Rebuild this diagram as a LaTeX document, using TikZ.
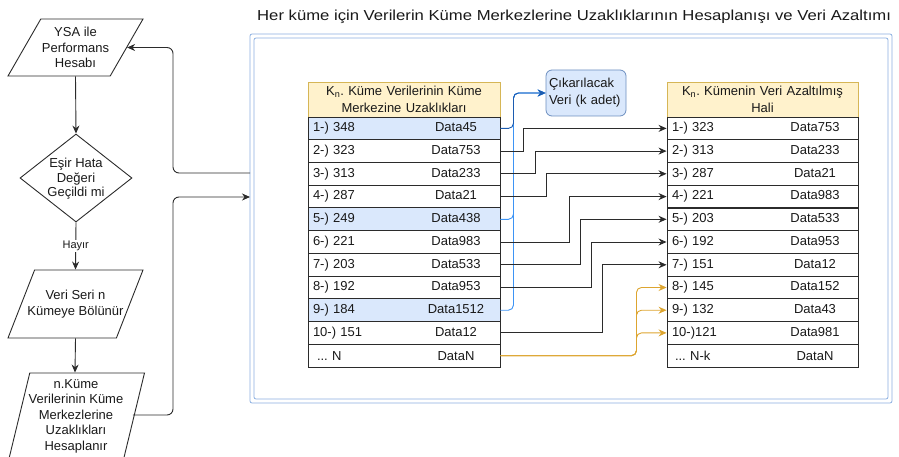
\documentclass[tikz,border=0pt]{standalone}
\usepackage{fontspec}
\setmainfont{Liberation Sans}
\usepackage{xcolor}
\usetikzlibrary{shapes.geometric, arrows.meta, positioning, calc}
\frenchspacing
\definecolor{headfill}{HTML}{FFF2CC}
\definecolor{headdraw}{HTML}{D6B656}
\definecolor{selfill}{HTML}{DAE8FC}
\definecolor{seldraw}{HTML}{6C8EBF}
\definecolor{framecol}{HTML}{8AAEE0}
\definecolor{dropblue}{HTML}{3D94F5}
\definecolor{dropdark}{HTML}{1C5CB0}
\definecolor{keeporange}{HTML}{DDA530}
\definecolor{linegray}{HTML}{2B2B2B}
\tikzstyle{io} = [trapezium, trapezium stretches=true, draw=linegray, line width=0.9pt, inner sep=2pt]
\tikzstyle{decision} = [diamond, draw=linegray, line width=0.9pt, minimum width=112pt, minimum height=88pt, inner sep=2pt]
\tikzstyle{flowtext} = [align=center, inner sep=0pt]
\tikzstyle{header} = [rectangle, draw=headdraw, fill=headfill, line width=0.8pt, minimum height=35pt, inner xsep=5pt, inner ysep=0pt, align=center, font=\fontsize{13pt}{17pt}\selectfont]
\tikzstyle{datarow} = [rectangle, draw=linegray, line width=0.9pt, minimum height=22.73pt, inner xsep=5pt, inner ysep=0pt, align=left]
\tikzstyle{dropbox} = [rectangle, draw=seldraw, fill=selfill, rounded corners=6pt, line width=0.8pt, minimum height=46pt, text width=74pt, inner xsep=3pt, align=left, font=\fontsize{13pt}{17pt}\selectfont]
\tikzstyle{arrow} = [-{Stealth[length=8pt, width=7pt]}, draw=linegray, line width=0.9pt]
\tikzstyle{moveline} = [-{Stealth[length=8pt, width=7pt]}, draw=linegray, line width=0.9pt]
\tikzstyle{dropline} = [-{Stealth[length=8pt, width=7pt]}, draw=dropblue, line width=0.9pt, rounded corners=5pt]
\tikzstyle{keepline} = [-{Stealth[length=8pt, width=7pt]}, draw=keeporange, line width=0.9pt, rounded corners=5pt]
\tikzstyle{frame} = [draw=framecol, line width=0.8pt, rounded corners=2pt]
\newcommand{\lcell}[2]{#1\hfill\makebox[78pt]{#2}}
\newcommand{\rcell}[2]{#1\hfill\makebox[76pt]{#2}}

\begin{document}
\begin{tikzpicture}[x=1pt, y=-1pt, font=\fontsize{13pt}{15.5pt}\selectfont, text=black!90]
    \useasboundingbox (0,0) rectangle (899,457);

    % Left flow chart
    \node[io, trapezium left angle=64.7, trapezium right angle=115.3, minimum width=135pt, minimum height=57pt] (perf) at (75.5,47.5) {};
    \node[flowtext] (perftext) at (perf) {YSA ile\\Performans\\Hesabı};
    \node[decision] (check) at (76,178) {};
    \node[flowtext, font=\fontsize{13pt}{14.5pt}\selectfont] (checktext) at (76,179) {Eşir Hata\\Değeri\\Geçildi mi};
    \node[io, trapezium left angle=72, trapezium right angle=108, minimum width=135pt, minimum height=68pt] (split) at (75.5,304) {};
    \node[flowtext] (splittext) at (split) {Veri Seri n\\Kümeye Bölünür};
    \node[io, trapezium left angle=75, trapezium right angle=105, minimum width=139pt, minimum height=100pt] (dist) at (75,423) {};
    \node[flowtext] (disttext) at (76,416) {n.Küme\\Verilerinin Küme\\Merkezlerine\\Uzaklıkları\\Hesaplanır};

    \draw[arrow] (perf.south) -- (check.north);
    \draw[arrow] (check.south) -- node[fill=white, inner sep=1.5pt, font=\fontsize{11pt}{13pt}\selectfont] (no) {Hayır} (split.north);
    \draw[arrow] (split.south) -- (dist.north);

    % Frame and title
    \draw[frame] (250,34) rectangle (892,403);
    \draw[frame] (254,38) rectangle (888,399);
    \node[anchor=west, inner sep=0pt, font=\fontsize{14.5pt}{17pt}\selectfont] (title) at (257,17) {\scalebox{1.15}[1]{Her küme için Verilerin Küme Merkezlerine Uzaklıklarının Hesaplanışı ve Veri Azaltımı}};

    \coordinate (rail) at (173,0);
    \coordinate (boxin) at (250,197);
    \coordinate (boxout) at (250,173);
    \draw[arrow, rounded corners=6pt] (dist.east |- 0,415) -| (rail |- boxin) -- (boxin);
    \draw[arrow, rounded corners=6pt] (boxout) -| (rail |- perf.east) -- (perf.east);

    % Left table
    \node[header, text width=182pt] (lhead) at (404,99.5) {K\textsubscript{n}. Küme Verilerinin Küme\\Merkezine Uzaklıkları};
    \node[datarow, text width=182pt, fill=selfill] (l1) at (404,128.4) {\lcell{1-) 348}{Data45}};
    \node[datarow, text width=182pt] (l2) at (404,151.1) {\lcell{2-) 323}{Data753}};
    \node[datarow, text width=182pt] (l3) at (404,173.8) {\lcell{3-) 313}{Data233}};
    \node[datarow, text width=182pt] (l4) at (404,196.6) {\lcell{4-) 287}{Data21}};
    \node[datarow, text width=182pt, fill=selfill] (l5) at (404,219.3) {\lcell{5-) 249}{Data438}};
    \node[datarow, text width=182pt] (l6) at (404,242.0) {\lcell{6-) 221}{Data983}};
    \node[datarow, text width=182pt] (l7) at (404,264.8) {\lcell{7-) 203}{Data533}};
    \node[datarow, text width=182pt] (l8) at (404,287.5) {\lcell{8-) 192}{Data953}};
    \node[datarow, text width=182pt, fill=selfill] (l9) at (404,310.2) {\lcell{9-) 184}{Data1512}};
    \node[datarow, text width=182pt] (l10) at (404,332.9) {\lcell{10-) 151}{Data12}};
    \node[datarow, text width=182pt] (l11) at (404,355.7) {\lcell{\hspace{4pt}... N}{DataN}};

    % Removed data
    \node[dropbox] (drop) at (586,93) {Çıkarılacak\\Veri (k adet)};

    % Right table
    \node[header, text width=181pt] (rhead) at (762.5,99.5) {K\textsubscript{n}. Kümenin Veri Azaltılmış\\Hali};
    \node[datarow, text width=181pt] (r1) at (762.5,128.4) {\rcell{1-) 323}{Data753}};
    \node[datarow, text width=181pt] (r2) at (762.5,151.1) {\rcell{2-) 313}{Data233}};
    \node[datarow, text width=181pt] (r3) at (762.5,173.8) {\rcell{3-) 287}{Data21}};
    \node[datarow, text width=181pt] (r4) at (762.5,196.6) {\rcell{4-) 221}{Data983}};
    \node[datarow, text width=181pt] (r5) at (762.5,219.3) {\rcell{5-) 203}{Data533}};
    \node[datarow, text width=181pt] (r6) at (762.5,242.0) {\rcell{6-) 192}{Data953}};
    \node[datarow, text width=181pt] (r7) at (762.5,264.8) {\rcell{7-) 151}{Data12}};
    \node[datarow, text width=181pt] (r8) at (762.5,287.5) {\rcell{8-) 145}{Data152}};
    \node[datarow, text width=181pt] (r9) at (762.5,310.2) {\rcell{9-) 132}{Data43}};
    \node[datarow, text width=181pt] (r10) at (762.5,332.9) {\rcell{10-)121}{Data981}};
    \node[datarow, text width=181pt] (r11) at (762.5,355.7) {\rcell{\hspace{3pt}... N-k}{DataN}};

    % Data removed
    \draw[dropline] (l5.east) -- ++(13,0) |- (drop.west);
    \draw[dropline] (l9.east) -- ++(13,0) |- (drop.west);
    \draw[dropline, draw=dropdark] (l1.east) -- ++(13,0) |- (drop.west);

    % Data moved up
    \draw[moveline] (l2.east) -- ++(23,0) |- (r1.west);
    \draw[moveline] (l3.east) -- ++(35,0) |- (r2.west);
    \draw[moveline] (l4.east) -- ++(46,0) |- (r3.west);
    \draw[moveline] (l6.east) -- ++(69,0) |- (r4.west);
    \draw[moveline] (l7.east) -- ++(80,0) |- (r5.west);
    \draw[moveline] (l8.east) -- ++(91,0) |- (r6.west);
    \draw[moveline] (l10.east) -- ++(102,0) |- (r7.west);

    % Remaining data
    \draw[keepline] (l11.east) -- ++(136,0) |- (r8.west);
    \draw[keepline] (l11.east) -- ++(136,0) |- (r9.west);
    \draw[keepline] (l11.east) -- ++(136,0) |- (r10.west);
\end{tikzpicture}
\end{document}
